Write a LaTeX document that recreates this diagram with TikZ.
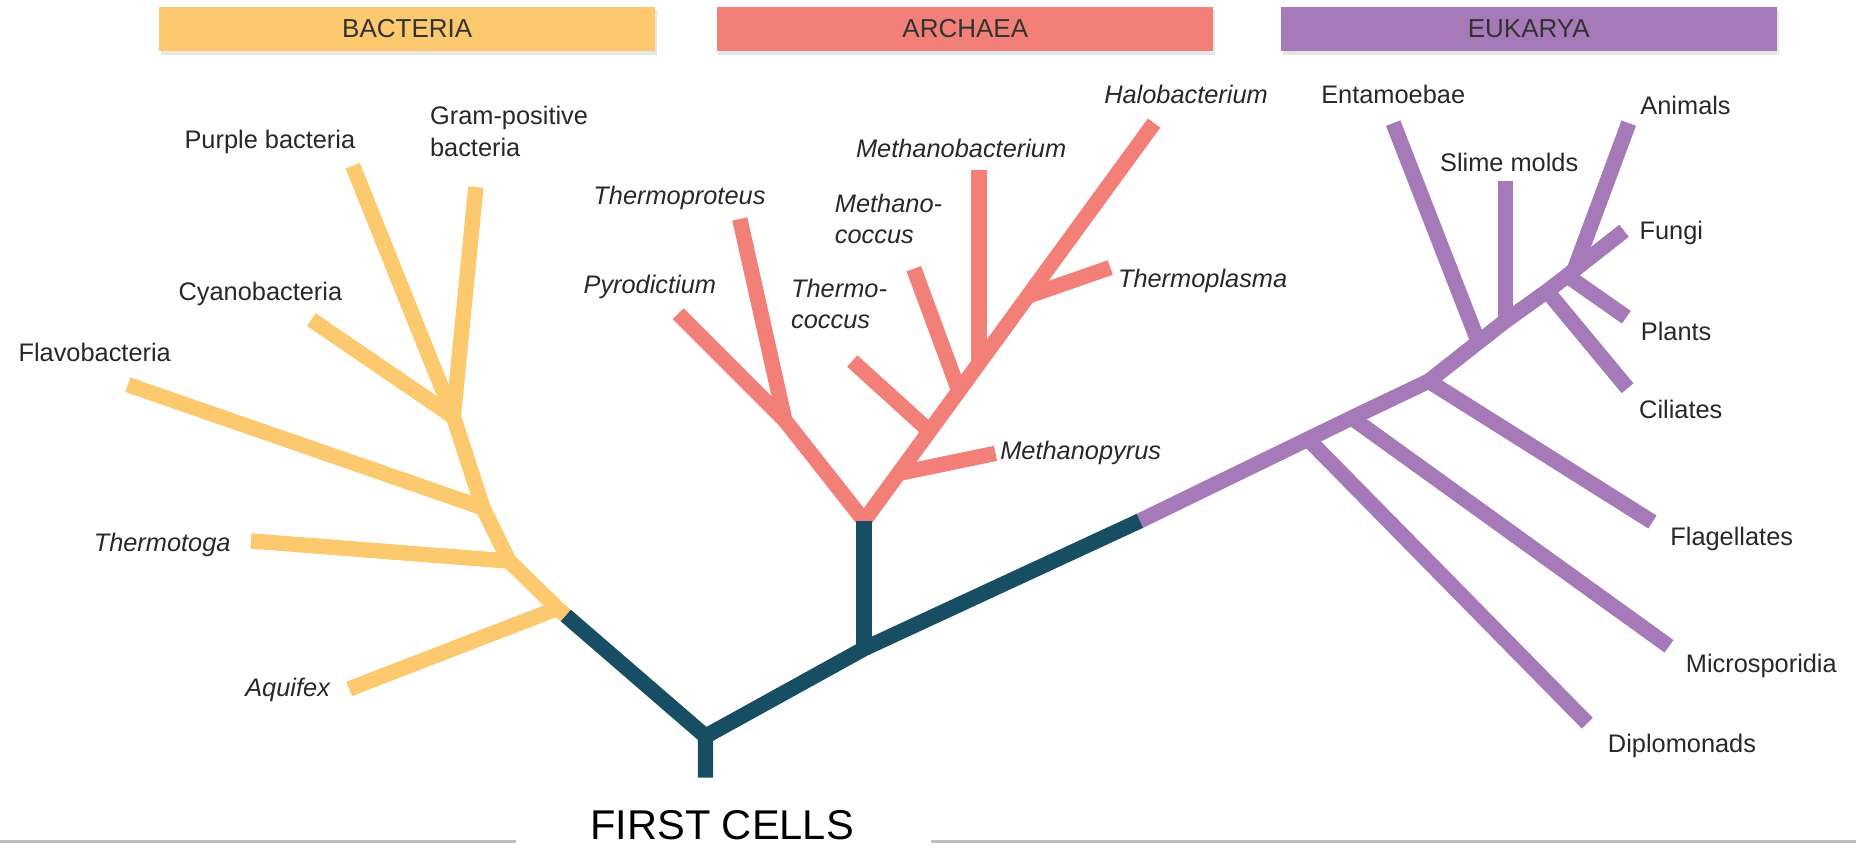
\documentclass[tikz,border=0pt]{standalone}
\usepackage{fontspec}
\setmainfont{Liberation Sans}
\usetikzlibrary{positioning,shadows}
\definecolor{BactYellow}{RGB}{252,201,110}
\definecolor{ArchSalmon}{RGB}{243,128,120}
\definecolor{EukPurple}{RGB}{166,122,184}
\definecolor{StemTeal}{RGB}{24,78,100}
\definecolor{LabelGray}{RGB}{40,40,40}

\begin{document}
\begin{tikzpicture}[x=0.02cm,y=-0.02cm,
  branch/.style={line width=7.4pt,line join=round},
  taxon/.style={font=\fontsize{12.2}{15}\selectfont,text=LabelGray,inner sep=0pt,align=left},
  itaxon/.style={taxon,font=\fontsize{12.2}{15}\selectfont\itshape},
  domainbar/.style={minimum width=8.38cm,minimum height=0.76cm,inner sep=0pt,
    font=\fontsize{12.5}{14}\selectfont,text=black!80,
    drop shadow={opacity=0.2,shadow xshift=1pt,shadow yshift=-1.5pt}}]
\useasboundingbox (0,0) rectangle (1568,720);

\node[domainbar,fill=BactYellow] (bacteria) at (344,24.5) {BACTERIA};
\node[domainbar,fill=ArchSalmon] (archaea) at (815.5,24.5) {ARCHAEA};
\node[domainbar,fill=EukPurple] (eukarya) at (1291.5,24.5) {EUKARYA};

\coordinate (root) at (596,657);
\coordinate (j0) at (596,622);
\coordinate (b0) at (478,520);
\coordinate (a0) at (730,548);
\coordinate (abase) at (730,440);
\coordinate (e0) at (963,440);

\coordinate (b1) at (471,514);
\coordinate (b2) at (430,474);
\coordinate (b3) at (408,429);
\coordinate (b4) at (383,352);
\coordinate (aquifexTip) at (295,582);
\coordinate (thermotogaTip) at (212,457);
\coordinate (flavoTip) at (108,325);
\coordinate (cyanoTip) at (263,270);
\coordinate (purpleTip) at (298,140);
\coordinate (gramTip) at (402,158);

\coordinate (al) at (663,355);
\coordinate (pyroTip) at (573,265);
\coordinate (tproteusTip) at (625,185);
\coordinate (a1) at (759,400);
\coordinate (a2) at (785,364);
\coordinate (a3) at (810,330);
\coordinate (a4) at (827,307);
\coordinate (a5) at (869,250);
\coordinate (mpyrusTip) at (841,383);
\coordinate (tcoccusTip) at (720,305);
\coordinate (mcoccusTip) at (772,227);
\coordinate (mbactTip) at (827,144);
\coordinate (tplasmaTip) at (938,226);
\coordinate (haloTip) at (975,104);

\coordinate (e1) at (1105,371);
\coordinate (e2) at (1142,353);
\coordinate (e3) at (1207,322);
\coordinate (e4) at (1249,289);
\coordinate (e5) at (1272,271);
\coordinate (e6) at (1307,246);
\coordinate (e7) at (1324,233);
\coordinate (e8) at (1330,228);
\coordinate (diploTip) at (1341,611);
\coordinate (microTip) at (1410,546);
\coordinate (flagTip) at (1396,441);
\coordinate (entaTip) at (1177,104);
\coordinate (slimeTip) at (1272,153);
\coordinate (animalTip) at (1376,104);
\coordinate (fungiTip) at (1372,195);
\coordinate (plantTip) at (1374,268);
\coordinate (ciliTip) at (1375,328);

\draw[branch,BactYellow] (b0) -- (b1) -- (b2) -- (b3) -- (b4);
\draw[branch,BactYellow] (b1) -- (aquifexTip);
\draw[branch,BactYellow] (b2) -- (thermotogaTip);
\draw[branch,BactYellow] (b3) -- (flavoTip);
\draw[branch,BactYellow] (b4) -- (cyanoTip);
\draw[branch,BactYellow] (b4) -- (purpleTip);
\draw[branch,BactYellow] (b4) -- (gramTip);

\draw[branch,ArchSalmon] (pyroTip) -- (al) -- (abase) -- (haloTip);
\draw[branch,ArchSalmon] (al) -- (tproteusTip);
\draw[branch,ArchSalmon] (a1) -- (mpyrusTip);
\draw[branch,ArchSalmon] (a2) -- (tcoccusTip);
\draw[branch,ArchSalmon] (a3) -- (mcoccusTip);
\draw[branch,ArchSalmon] (a4) -- (mbactTip);
\draw[branch,ArchSalmon] (a5) -- (tplasmaTip);

\draw[branch,EukPurple] (e0) -- (e1) -- (e2) -- (e3) -- (e4) -- (e5) -- (e6) -- (e7) -- (e8) -- (fungiTip);
\draw[branch,EukPurple] (e1) -- (diploTip);
\draw[branch,EukPurple] (e2) -- (microTip);
\draw[branch,EukPurple] (e3) -- (flagTip);
\draw[branch,EukPurple] (e4) -- (entaTip);
\draw[branch,EukPurple] (e5) -- (slimeTip);
\draw[branch,EukPurple] (e6) -- (ciliTip);
\draw[branch,EukPurple] (e7) -- (plantTip);
\draw[branch,EukPurple] (e8) -- (animalTip);

\draw[branch,StemTeal] (root) -- (j0) -- (b0);
\draw[branch,StemTeal] (j0) -- (a0) -- (e0);
\draw[branch,StemTeal] (a0) -- (abase);

\node[taxon] (purple) at (228,120) {Purple bacteria};
\node[taxon,anchor=west] (grampos) at (363,111) {Gram-positive\\bacteria};
\node[taxon] (cyano) at (220,248) {Cyanobacteria};
\node[taxon] (flavo) at (80,298) {Flavobacteria};
\node[itaxon] (thermotoga) at (137,460) {Thermotoga};
\node[itaxon] (aquifex) at (243,583) {Aquifex};

\node[itaxon] (halo) at (1002,80) {Halobacterium};
\node[itaxon] (mbact) at (812,125) {Methanobacterium};
\node[itaxon] (tproteus) at (574,167) {Thermoproteus};
\node[itaxon,anchor=west] (mcoccus) at (705,185) {Methano-\\coccus};
\node[itaxon] (pyro) at (549,242) {Pyrodictium};
\node[itaxon,anchor=west] (tcoccus) at (668,257) {Thermo-\\coccus};
\node[itaxon] (tplasma) at (1016,237) {Thermoplasma};
\node[itaxon] (mpyrus) at (913,383) {Methanopyrus};

\node[taxon] (enta) at (1177,80) {Entamoebae};
\node[taxon] (slime) at (1275,137) {Slime molds};
\node[taxon] (animals) at (1424,89) {Animals};
\node[taxon] (fungi) at (1412,197) {Fungi};
\node[taxon] (plants) at (1416,280) {Plants};
\node[taxon] (ciliates) at (1420,346) {Ciliates};
\node[taxon] (flag) at (1463,455) {Flagellates};
\node[taxon] (micro) at (1488,563) {Microsporidia};
\node[taxon] (diplo) at (1421,630) {Diplomonads};

\node[font=\fontsize{20}{22}\selectfont,inner sep=0pt] (first) at (610,697) {FIRST CELLS};
\coordinate (lineL) at (0,711);
\coordinate (lineR) at (1568,711);
\draw[gray!50,line width=1.1pt] (lineL) -- ([xshift=-1.25cm]first.west |- lineL);
\draw[gray!50,line width=1.1pt] ([xshift=1.3cm]first.east |- lineR) -- (lineR);
\end{tikzpicture}
\end{document}
